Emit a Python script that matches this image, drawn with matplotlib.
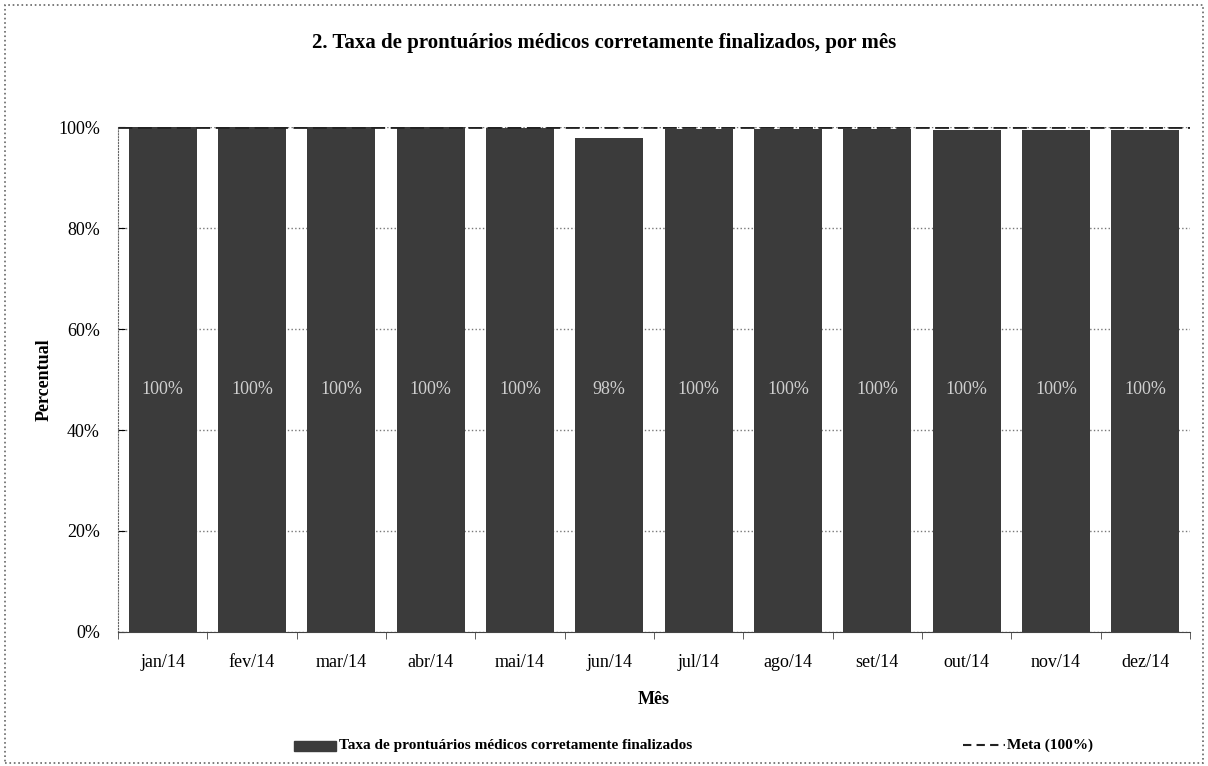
import numpy as np
import matplotlib.pyplot as plt
from matplotlib.patches import Rectangle

meses = ["jan/14", "fev/14", "mar/14", "abr/14", "mai/14", "jun/14",
         "jul/14", "ago/14", "set/14", "out/14", "nov/14", "dez/14"]
taxa = [100.0, 100.0, 100.0, 100.0, 99.8, 97.8, 99.7, 99.6, 99.6, 99.5, 99.5, 99.5]
meta = [100] * 12

plt.rcParams['font.family'] = ['Liberation Serif', 'DejaVu Serif']

fig = plt.figure(figsize=(12.08, 7.66), dpi=100)
ax = fig.add_axes([0.0977, 0.175, 0.8873, 0.659])

x = np.arange(len(meses))
bars = ax.bar(x, taxa, width=0.76, color='#3b3b3b', zorder=2)
ax.plot(np.r_[x[0] - 0.5, x, x[-1] + 0.5], [meta[0]] + meta + [meta[-1]],
        color='#222222', lw=2, ls=(0, (5, 2)), zorder=3)

for xi, v in zip(x, taxa):
    ax.text(xi, 48, f"{round(v):.0f}%", ha='center', va='center',
            color='#cfcfcf', fontsize=13, zorder=4)

ax.set_xlim(-0.5, len(meses) - 0.5)
ax.set_ylim(0, 100)
ax.set_yticks(np.arange(0, 101, 20))
ax.set_yticklabels([f"{t}%" for t in range(0, 101, 20)], fontsize=13)
ax.set_xticks(x)
ax.set_xticklabels(meses, fontsize=13)
ax.set_xticks(np.arange(-0.5, len(meses), 1), minor=True)
ax.tick_params(axis='x', which='major', length=0, pad=16)
ax.tick_params(axis='x', which='minor', length=5, direction='out', color='#444444')
ax.tick_params(axis='y', length=5, direction='in', pad=13)
ax.grid(axis='y', color='#777777', ls=':', lw=1, zorder=0)
for s in ['top', 'right']:
    ax.spines[s].set_visible(False)
ax.spines['left'].set_color('#666666')
ax.spines['left'].set_linestyle(':')
ax.spines['bottom'].set_color('#444444')

ax.set_xlabel("Mês", fontsize=13, fontweight='bold', labelpad=14)
ax.set_ylabel("Percentual", fontsize=13, fontweight='bold', labelpad=4)
fig.text(0.5, 0.944, "2. Taxa de prontuários médicos corretamente finalizados, por mês",
         ha='center', va='center', fontsize=15, fontweight='bold')

# legend
fig.patches.append(Rectangle((0.243, 0.020), 0.035, 0.013, transform=fig.transFigure,
                             color='#3b3b3b'))
fig.text(0.281, 0.027, "Taxa de prontuários médicos corretamente finalizados",
         ha='left', va='center', fontsize=11, fontweight='bold')
fig.lines.append(plt.Line2D([0.797, 0.832], [0.027, 0.027], transform=fig.transFigure,
                            color='#222222', lw=1.5, ls=(0, (4, 2.5))))
fig.text(0.834, 0.027, "Meta (100%)", ha='left', va='center', fontsize=11, fontweight='bold')

# outer dotted frame
fig.patches.append(Rectangle((0.004, 0.004), 0.992, 0.99, transform=fig.transFigure,
                             fill=False, ec='#666666', ls=':', lw=1.2))

fig.savefig("out.png", dpi=100)
